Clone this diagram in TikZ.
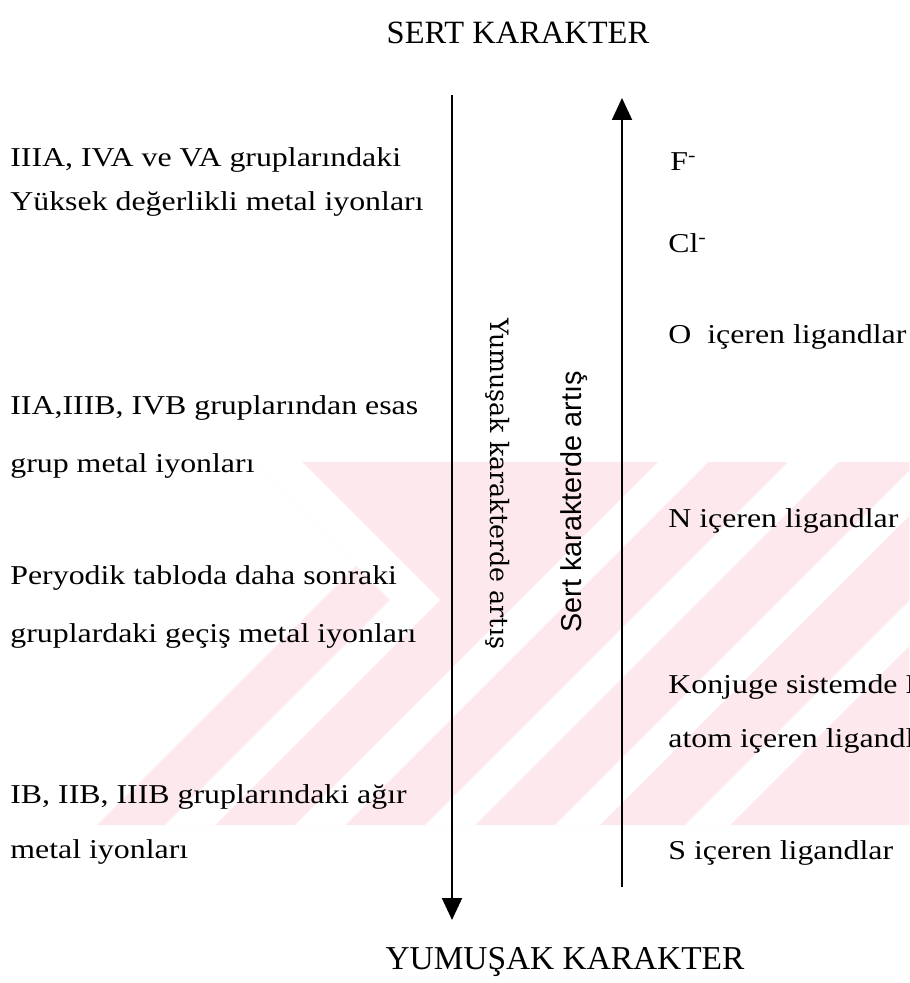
\documentclass[tikz,border=0pt]{standalone}
\usepackage{fontspec}
\setmainfont{Liberation Serif}
\newfontfamily\widetimes[FakeStretch=1.17]{Liberation Serif}
\newfontfamily\wideserif{DejaVu Serif}
\newfontfamily\plainsans{Liberation Sans}
\usetikzlibrary{arrows.meta}
\definecolor{wmpink}{RGB}{253,233,237}

\begin{document}
\begin{tikzpicture}[
  x=0.02cm, y=-0.02cm,
  font=\widetimes\fontsize{15.5}{18}\selectfont,
  lbl/.style={anchor=west, inner sep=0pt},
  head/.style={inner sep=0pt},
  trend/.style={inner sep=0pt},
  axisline/.style={line width=1.1pt, -{Triangle[length=0.44cm, width=0.4cm]}},
]
  \clip (0,0) rectangle (909,983);
  \fill[white] (0,0) rectangle (909,983);

  % --- background stamp ---
  \fill[wmpink] (252,462) -- (909,462) -- (909,825) -- (97,825) -- (356,566) -- cycle;
  \fill[white] (252,462) -- (302,462) -- (440,600) -- (215,825) -- (165,825) -- (390,600) -- cycle;
  \foreach \a/\b in {1120/1170, 1250/1300, 1380/1425, 1510/1555}
    \fill[white] ({\a-462},462) -- ({\b-462},462) -- ({\b-825},825) -- ({\a-825},825) -- cycle;

  % --- headings ---
  \node[head, font=\rmfamily\fontsize{18.5}{22}\selectfont] (hard) at (518,33) {SERT KARAKTER};
  \node[head, font=\rmfamily\fontsize{19}{22}\selectfont] (soft) at (565,962) {YUMUŞAK KARAKTER};

  % --- metal ions ---
  \node[lbl] (ion1a) at (10,160) {IIIA, IVA ve VA gruplarındaki};
  \node[lbl] (ion1b) at (10,204) {Yüksek değerlikli metal iyonları};
  \node[lbl] (ion2a) at (10,408) {IIA,IIIB, IVB gruplarından esas};
  \node[lbl] (ion2b) at (10,466) {grup metal iyonları};
  \node[lbl] (ion3a) at (10,578) {Peryodik tabloda daha sonraki};
  \node[lbl] (ion3b) at (10,636) {gruplardaki geçiş metal iyonları};
  \node[lbl] (ion4a) at (10,797) {IB, IIB, IIIB gruplarındaki ağır};
  \node[lbl] (ion4b) at (10,852) {metal iyonları};

  % --- ligands ---
  \node[lbl] (lig1) at (670,162) {F\textsuperscript{-}};
  \node[lbl] (lig2) at (668,243) {Cl\textsuperscript{-}};
  \node[lbl] (lig3) at (668,337) {O~~içeren ligandlar};
  \node[lbl] (lig4) at (668,521) {N içeren ligandlar};
  \node[lbl] (lig5a) at (668,687) {Konjuge sistemde N};
  \node[lbl] (lig5b) at (668,741) {atom içeren ligandlar};
  \node[lbl] (lig6) at (668,853) {S içeren ligandlar};

  % --- trends ---
  \coordinate (softtop) at (452,95);
  \coordinate (softend) at (452,920);
  \coordinate (hardbot) at (622,887);
  \coordinate (hardend) at (622,98);
  \draw[axisline] (softtop) -- (softend);
  \draw[axisline] (hardbot) -- (hardend);
  \node[trend, rotate=-90, font=\wideserif\fontsize{14.4}{17}\selectfont] (softup) at (498,484) {Yumuşak karakterde artış};
  \node[trend, rotate=90, font=\plainsans\fontsize{16.4}{19}\selectfont] (hardup) at (574,502) {Sert karakterde artış};
\end{tikzpicture}
\end{document}
